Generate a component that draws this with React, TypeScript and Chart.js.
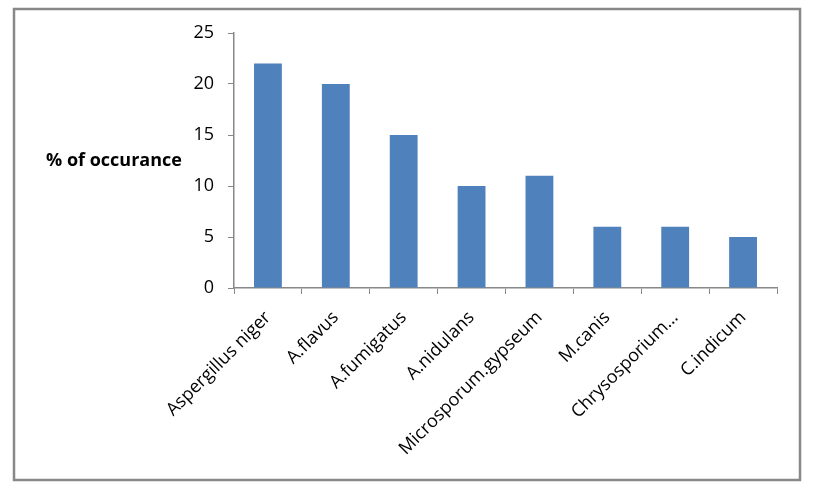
import React, { useEffect, useRef } from "react";
import { Chart, registerables } from "chart.js";

Chart.register(...registerables);

const categories = [
  "Aspergillus niger",
  "A.flavus",
  "A.fumigatus",
  "A.nidulans",
  "Microsporum.gypseum",
  "M.canis",
  "Chrysosporium…",
  "C.indicum",
];
const values = [22, 20, 15, 10, 11, 6, 6, 5];
const yMin = 0;
const yMax = 25;
const yStep = 5;
const yLabel = "% of occurance";

const FONT = "'Open Sans', 'DejaVu Sans', sans-serif";

export default function App() {
  const ref = useRef<HTMLCanvasElement>(null);

  useEffect(() => {
    if (!ref.current) return;
    const framePlugin = {
      id: "framePlugin",
      beforeDraw(chart: any) {
        const ctx = chart.ctx;
        ctx.save();
        ctx.fillStyle = "#ffffff";
        ctx.fillRect(0, 0, chart.width, chart.height);
        ctx.strokeStyle = "#888888";
        ctx.lineWidth = 2.5;
        ctx.strokeRect(14, 9, 786, 471);
        ctx.restore();
      },
      afterDraw(chart: any) {
        const ctx = chart.ctx;
        ctx.save();
        ctx.font = `bold 18px ${FONT}`;
        ctx.fillStyle = "#000000";
        ctx.textAlign = "center";
        ctx.textBaseline = "middle";
        ctx.fillText(yLabel, 114, 161);
        ctx.restore();
      },
    };

    const chart = new Chart(ref.current, {
      type: "bar",
      data: {
        labels: categories,
        datasets: [
          {
            data: values,
            backgroundColor: "#4F81BD",
            borderWidth: 0,
            barPercentage: 0.41,
            categoryPercentage: 1,
          },
        ],
      },
      options: {
        animation: false,
        responsive: true,
        maintainAspectRatio: false,
        layout: { padding: { left: 100, top: 33, right: 48, bottom: 20 } },
        plugins: {
          legend: { display: false },
          tooltip: { enabled: false },
        },
        scales: {
          y: {
            min: yMin,
            max: yMax,
            afterFit(s: any) {
              s.width = 134;
            },
            ticks: {
              stepSize: yStep,
              color: "#000000",
              font: { family: FONT, size: 18 },
              padding: 14,
            },
            grid: {
              drawOnChartArea: false,
              drawTicks: true,
              tickLength: 6,
              color: "#888888",
            },
            border: { color: "#888888", width: 1.5 },
          },
          x: {
            afterFit(s: any) {
              s.height = 193;
            },
            ticks: {
              color: "#000000",
              font: { family: FONT, size: 18 },
              maxRotation: 45,
              minRotation: 45,
              autoSkip: false,
              padding: 13,
            },
            grid: {
              drawOnChartArea: false,
              drawTicks: true,
              tickLength: 6,
              color: "#888888",
              offset: true,
            },
            border: { color: "#888888", width: 1.5 },
          },
        },
      },
      plugins: [framePlugin],
    });
    return () => chart.destroy();
  }, []);

  return (
    <div style={{ position: "absolute", left: 0, top: 0, width: 825, height: 501 }}>
      <canvas ref={ref} />
    </div>
  );
}
